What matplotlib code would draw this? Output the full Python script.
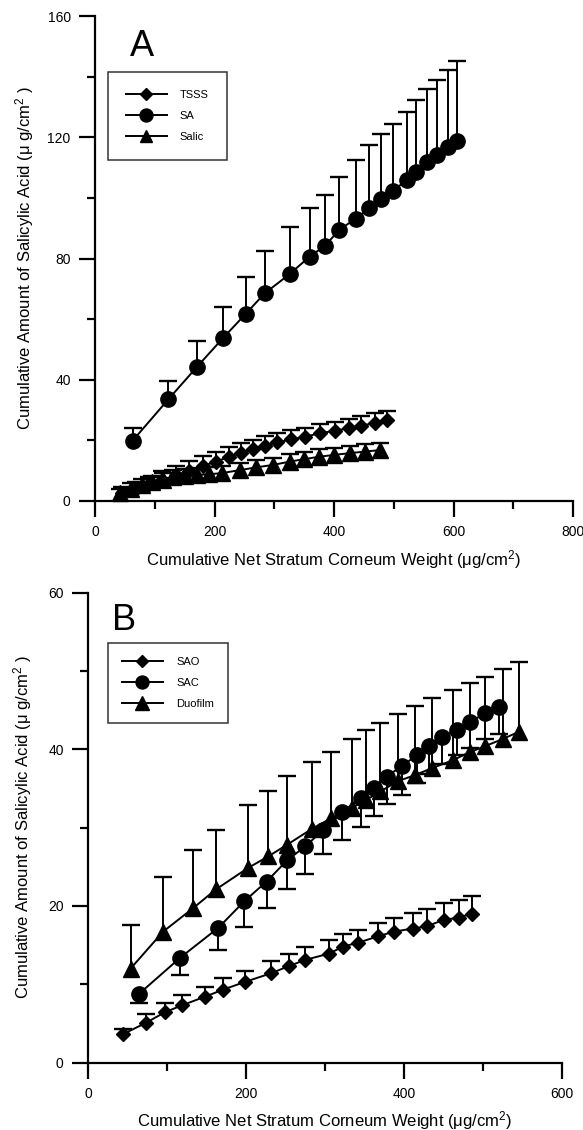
import matplotlib
matplotlib.use('Agg')
import matplotlib.pyplot as plt
from matplotlib.ticker import MultipleLocator

plt.rcParams['font.family'] = ['Liberation Sans', 'DejaVu Sans']
plt.rcParams['mathtext.fontset'] = 'custom'
plt.rcParams['mathtext.rm'] = 'Liberation Sans'
plt.rcParams['mathtext.it'] = 'Liberation Sans:italic'
plt.rcParams['mathtext.bf'] = 'Liberation Sans:bold'

# ---------------- Panel A data ----------------
sa_x = [63, 123, 170, 214, 252, 284, 326, 359, 385, 409, 436, 459, 479, 498, 523, 537, 555, 573, 591, 606]
sa_y = [19.9, 33.6, 44.1, 53.7, 61.7, 68.5, 74.9, 80.6, 84.2, 89.5, 93.1, 96.6, 99.6, 102.4, 105.9, 108.7,
        111.7, 114.2, 116.7, 118.6]
sa_top = [24, 39.7, 52.8, 64.1, 73.8, 82.5, 90.3, 96.7, 101, 107, 112.4, 117.3, 121, 124.3, 128.4, 132.2,
          135.9, 138.9, 142.2, 145.2]

tsss_x = [45, 68, 90, 112, 135, 158, 180, 202, 224, 245, 265, 285, 305, 328, 351, 376, 401, 425, 446, 468, 489]
tsss_y = [2.5, 4.0, 5.5, 7.0, 8.5, 10.0, 11.5, 13.0, 14.5, 16.0, 17.2, 18.3, 19.3, 20.3, 21.2, 22.3, 23.2,
          24.0, 24.8, 25.8, 26.7]
tsss_top = [4.5, 6.3, 8.0, 9.8, 11.5, 13.2, 14.8, 16.3, 17.7, 19.0, 20.2, 21.3, 22.3, 23.3, 24.2, 25.3,
            26.2, 27.0, 27.9, 28.9, 29.8]

salic_x = [42, 60, 78, 95, 113, 131, 150, 170, 190, 212, 243, 270, 298, 326, 350, 375, 400, 427, 452, 477]
salic_y = [2.5, 4.0, 5.3, 6.2, 7.0, 7.8, 8.3, 8.6, 8.8, 9.2, 10.2, 11.1, 11.9, 13.0, 13.8, 14.6, 15.2,
           15.8, 16.3, 16.8]
salic_top = [4.0, 5.8, 7.3, 8.4, 9.3, 10.2, 10.7, 11.0, 11.2, 11.6, 12.6, 13.5, 14.3, 15.4, 16.2, 17.0,
             17.6, 18.2, 18.7, 19.2]

# ---------------- Panel B data ----------------
sao_x = [44, 74, 97, 119, 148, 171, 199, 232, 254, 275, 305, 323, 342, 367, 387, 411, 429, 450, 469, 486]
sao_y = [3.6, 5.1, 6.4, 7.3, 8.4, 9.3, 10.3, 11.4, 12.3, 13.1, 13.9, 14.8, 15.3, 16.1, 16.7, 17.1, 17.4,
         18.2, 18.5, 19.0]
sao_top = [4.3, 6.2, 7.6, 8.6, 9.7, 10.8, 11.7, 13.0, 13.9, 14.7, 15.6, 16.4, 16.9, 17.8, 18.4, 19.1, 19.6,
           20.3, 20.8, 21.2]

sac_x = [65, 117, 165, 198, 226, 252, 275, 298, 322, 346, 362, 378, 398, 416, 432, 448, 467, 484, 503, 520]
sac_y = [8.8, 13.4, 17.2, 20.6, 23.1, 25.8, 27.6, 29.7, 32.0, 33.8, 35.1, 36.5, 37.9, 39.2, 40.4, 41.5,
         42.5, 43.5, 44.6, 45.4]
sac_bottom = [7.6, 11.2, 14.4, 17.3, 19.7, 22.1, 24.1, 26.6, 28.4, 30.1, 31.5, 33.0, 34.2, 35.7, 36.8,
              38.1, 39.3, 40.2, 41.3, 42.0]

duo_x = [54, 95, 133, 162, 202, 228, 252, 283, 308, 334, 352, 370, 392, 414, 436, 462, 483, 503, 525, 545]
duo_y = [12.0, 16.7, 19.7, 22.1, 24.8, 26.3, 27.8, 29.8, 31.2, 32.5, 33.5, 34.6, 35.9, 36.7, 37.6, 38.6,
         39.6, 40.4, 41.3, 42.2]
duo_top = [17.5, 23.7, 27.1, 29.7, 32.9, 34.7, 36.6, 38.3, 39.6, 41.3, 42.4, 43.3, 44.5, 45.5, 46.5, 47.5,
           48.4, 49.2, 50.2, 51.1]

ylabel_text = r'Cumulative Amount of Salicylic Acid ($\mathrm{\mu}$ g/cm$^{2}$ )'
xlabel_text = r'Cumulative Net Stratum Corneum Weight ($\mathrm{\mu}$g/cm$^{2}$)'

fig = plt.figure(figsize=(5.83, 11.3), dpi=100)
axA = fig.add_axes([95 / 583, 1 - 501 / 1130, 478 / 583, 485 / 1130])
axB = fig.add_axes([88 / 583, 1 - 1062.5 / 1130, 474 / 583, 470 / 1130])

LW = 1.4


def style_axes(ax, xmax, xmaj, ymax, ymaj):
    ax.set_xlim(0, xmax)
    ax.set_ylim(0, ymax)
    for s in ('top', 'right'):
        ax.spines[s].set_visible(False)
    for s in ('left', 'bottom'):
        ax.spines[s].set_linewidth(1.6)
    ax.xaxis.set_major_locator(MultipleLocator(xmaj))
    ax.xaxis.set_minor_locator(MultipleLocator(xmaj / 2))
    ax.yaxis.set_major_locator(MultipleLocator(ymaj))
    ax.yaxis.set_minor_locator(MultipleLocator(ymaj / 2))
    ax.tick_params(which='major', direction='out', length=11.5, width=1.6, pad=6, labelsize=10)
    ax.tick_params(which='minor', direction='out', length=6, width=1.6)


def series(ax, x, y, marker, ms, label):
    ln, = ax.plot(x, y, '-', color='k', lw=LW, marker=marker, ms=ms, mfc='k', mec='k', label=label,
                  zorder=3, clip_on=False)
    return ln


def err_up(ax, x, y, top):
    ax.vlines(x, y, top, colors='k', lw=LW, zorder=2)
    ax.plot(x, top, ls='none', marker='_', ms=12.5, mew=1.7, color='k', zorder=2)


def err_down(ax, x, y, bottom):
    ax.vlines(x, bottom, y, colors='k', lw=LW, zorder=2)
    ax.plot(x, bottom, ls='none', marker='_', ms=12.5, mew=1.7, color='k', zorder=2)


# ---------------- Panel A ----------------
style_axes(axA, 800, 200, 160, 40)
err_up(axA, sa_x, sa_y, sa_top)
err_up(axA, tsss_x, tsss_y, tsss_top)
err_up(axA, salic_x, salic_y, salic_top)
l1 = series(axA, tsss_x, tsss_y, 'D', 7.3, 'TSSS')
l2 = series(axA, sa_x, sa_y, 'o', 11, 'SA')
l3 = series(axA, salic_x, salic_y, '^', 11, 'Salic')
axA.set_xlabel(xlabel_text, fontsize=12, labelpad=6)
axA.set_ylabel(ylabel_text, fontsize=12, labelpad=8)
axA.text(0.073, 0.9175, 'A', transform=axA.transAxes, fontsize=26, ha='left', va='baseline')
legA = axA.legend(handles=[l1, l2, l3], loc='upper left', bbox_to_anchor=(108 / 583, 1 - 72 / 1130),
                  bbox_transform=fig.transFigure, borderaxespad=0, fontsize=8, numpoints=1,
                  handlelength=3.7, handletextpad=1.17, borderpad=1.6, labelspacing=1.0,
                  fancybox=False, frameon=True, edgecolor='k', markerscale=0.85)
legA.get_frame().set_linewidth(1.1)

# ---------------- Panel B ----------------
style_axes(axB, 600, 200, 60, 20)
err_up(axB, duo_x, duo_y, duo_top)
err_down(axB, sac_x, sac_y, sac_bottom)
err_up(axB, sao_x, sao_y, sao_top)
m1 = series(axB, sao_x, sao_y, 'D', 7, 'SAO')
m2 = series(axB, sac_x, sac_y, 'o', 11, 'SAC')
m3 = series(axB, duo_x, duo_y, '^', 12, 'Duofilm')
axB.set_xlabel(xlabel_text, fontsize=12, labelpad=6)
axB.set_ylabel(ylabel_text, fontsize=12, labelpad=10)
axB.text(0.0506, 0.920, 'B', transform=axB.transAxes, fontsize=26, ha='left', va='baseline')
legB = axB.legend(handles=[m1, m2, m3], loc='upper left', bbox_to_anchor=(108 / 583, 1 - 643 / 1130),
                  bbox_transform=fig.transFigure, borderaxespad=0, fontsize=8, numpoints=1,
                  handlelength=3.7, handletextpad=1.17, borderpad=1.25, labelspacing=1.0,
                  fancybox=False, frameon=True, edgecolor='k', markerscale=0.85)
legB.get_frame().set_linewidth(1.1)

fig.savefig('out.png', dpi=100)
